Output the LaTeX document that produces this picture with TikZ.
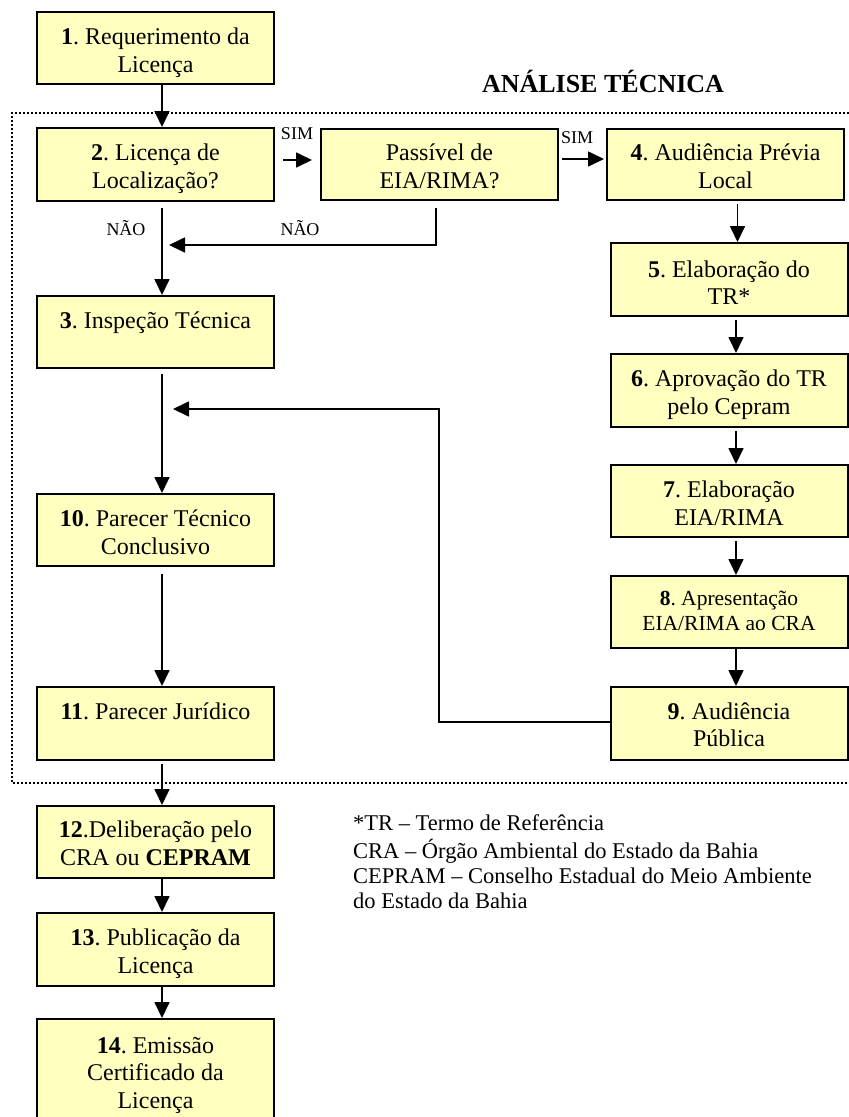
\documentclass[tikz,border=0pt]{standalone}
\usepackage{fontspec}
\setmainfont{Liberation Serif}
\usetikzlibrary{arrows.meta}
\frenchspacing

\definecolor{boxfill}{RGB}{255,255,192}

% box contents: fixed height, text hung from the top edge
\newcommand{\boxtxt}[3][32.5pt]{\parbox[c][#2][t]{237pt}{\centering\rule{0pt}{#1}#3}}

\tikzset{
  stepbox/.style={draw=black, fill=boxfill, line width=2pt, inner sep=0pt,
                  font=\fontsize{24}{27.5}\selectfont},
  smallbox/.style={stepbox, font=\fontsize{21.5}{25}\selectfont},
  arr/.style={line width=1.7pt, -{Triangle[length=16pt,width=15pt]}},
  tag/.style={inner sep=0pt, anchor=base, font=\fontsize{18}{21}\selectfont},
  frame/.style={line width=1.8pt, dash pattern=on 1.8pt off 2.2pt}
}

\begin{document}
\begin{tikzpicture}[x=1pt, y=-1pt]
\clip (0,0) rectangle (849,1117);
\fill[white] (0,0) rectangle (849,1117);

% technical-analysis frame
\draw[frame] (849,113) -- (12,113) -- (12,783) -- (849,783);
\node[inner sep=0pt, anchor=base, font=\fontsize{26}{30}\selectfont\bfseries] (title) at (603,92) {ANÁLISE TÉCNICA};

% left column
\node[stepbox] (b1)  at (155.5,48)    {\boxtxt{72pt}{\textbf{1}. Requerimento da\\Licença}};
\node[stepbox] (b2)  at (155.5,164.5) {\boxtxt{73pt}{\textbf{2}. Licença de\\Localização?}};
\node[stepbox] (b3)  at (155.5,332)   {\boxtxt{72pt}{\textbf{3}. Inspeção Técnica}};
\node[stepbox] (b10) at (155.5,530)   {\boxtxt{72pt}{\textbf{10}. Parecer Técnico\\Conclusivo}};
\node[stepbox] (b11) at (155.5,723.5) {\boxtxt{73pt}{\textbf{11}. Parecer Jurídico}};
\node[stepbox] (b12) at (155.5,842)   {\boxtxt[31.5pt]{72pt}{\textbf{12}.Deliberação pelo\\CRA ou \textbf{CEPRAM}}};
\node[stepbox] (b13) at (155.5,949.5) {\boxtxt{73pt}{\textbf{13}. Publicação da\\Licença}};
\node[stepbox] (b14) at (155.5,1074)  {\boxtxt[34pt]{110pt}{\textbf{14}. Emissão\\Certificado da\\Licença}};

% middle decision
\node[stepbox] (bp)  at (439.5,164.5) {\boxtxt[31.5pt]{71pt}{Passível de\\EIA/RIMA?}};

% right column
\node[stepbox] (b4)  at (725.5,164.5) {\boxtxt[31.5pt]{71pt}{\textbf{4}. Audiência Prévia\\Local}};
\node[stepbox] (b5)  at (729,279.5)   {\boxtxt[34pt]{73pt}{\textbf{5}. Elaboração do\\TR*}};
\node[stepbox] (b6)  at (729,390.5)   {\boxtxt{73pt}{\textbf{6}. Aprovação do TR\\pelo Cepram}};
\node[stepbox] (b7)  at (729,501)     {\boxtxt{72pt}{\textbf{7}. Elaboração\\EIA/RIMA}};
\node[smallbox] (b8) at (729,612)     {\boxtxt[29pt]{72pt}{\textbf{8}. Apresentação\\EIA/RIMA ao CRA}};
\node[stepbox] (b9)  at (729,723.5)   {\boxtxt[32pt]{73pt}{\textbf{9}. Audiência\\Pública}};

% main flow, left column
\draw[arr] ([xshift=6.5pt]b1.south) -- ([xshift=6.5pt]b2.north);
\draw[arr, shorten <=6pt] ([xshift=6.5pt]b2.south) -- ([xshift=6.5pt]b3.north);
\draw[arr, shorten <=5pt] ([xshift=6.5pt]b3.south) -- ([xshift=6.5pt]b10.north);
\draw[arr, shorten <=7pt] ([xshift=6.5pt]b10.south) -- ([xshift=6.5pt]b11.north);
\draw[arr, shorten <=3pt] ([xshift=6.5pt]b11.south) -- ([xshift=6.5pt]b12.north);
\draw[arr] ([xshift=6.5pt]b12.south) -- ([xshift=6.5pt]b13.north);
\draw[arr] ([xshift=6.5pt]b13.south) -- ([xshift=6.5pt]b14.north);

% decisions
\draw[arr, shorten <=8pt, shorten >=8pt] ([yshift=4.5pt]b2.east) -- ([yshift=4.5pt]bp.west);
\node[tag] (sim1) at (297,139) {SIM};
\draw[arr, shorten <=3pt, shorten >=2pt] ([yshift=5.5pt]bp.east) -- ([yshift=5.5pt]b4.west);
\node[tag] (sim2) at (577,143) {SIM};
\node[tag] (nao1) at (126,235) {NÃO};
\coordinate (nj) at (169,245);
\draw[arr, shorten <=7pt] ([xshift=-3.5pt]bp.south) |- (nj);
\node[tag] (nao2) at (300,235) {NÃO};

% right column
\draw[arr, shorten <=3pt] ([xshift=12pt]b4.south) -- ([xshift=8.5pt]b5.north);
\draw[arr, shorten <=3pt] ([xshift=7pt]b5.south) -- ([xshift=7pt]b6.north);
\draw[arr, shorten <=3pt] ([xshift=7pt]b6.south) -- ([xshift=7pt]b7.north);
\draw[arr, shorten <=3pt] ([xshift=7pt]b7.south) -- ([xshift=7pt]b8.north);
\draw[arr] ([xshift=7pt]b8.south) -- ([xshift=7pt]b9.north);

% return from public hearing to technical opinion
\coordinate (rc) at (439,409);
\coordinate (rj) at (173,409);
\draw[arr] ([yshift=1.5pt]b9.west) -| (rc) -- (rj);

% legend
\node[inner sep=0pt, anchor=north west, align=left, font=\fontsize{22.5}{25}\selectfont] (legend) at (353,812.5)
  {\strut*TR – Termo de Referência\\
   CRA – Órgão Ambiental do Estado da Bahia\\
   CEPRAM – Conselho Estadual do Meio Ambiente\\
   do Estado da Bahia};
\end{tikzpicture}
\end{document}
